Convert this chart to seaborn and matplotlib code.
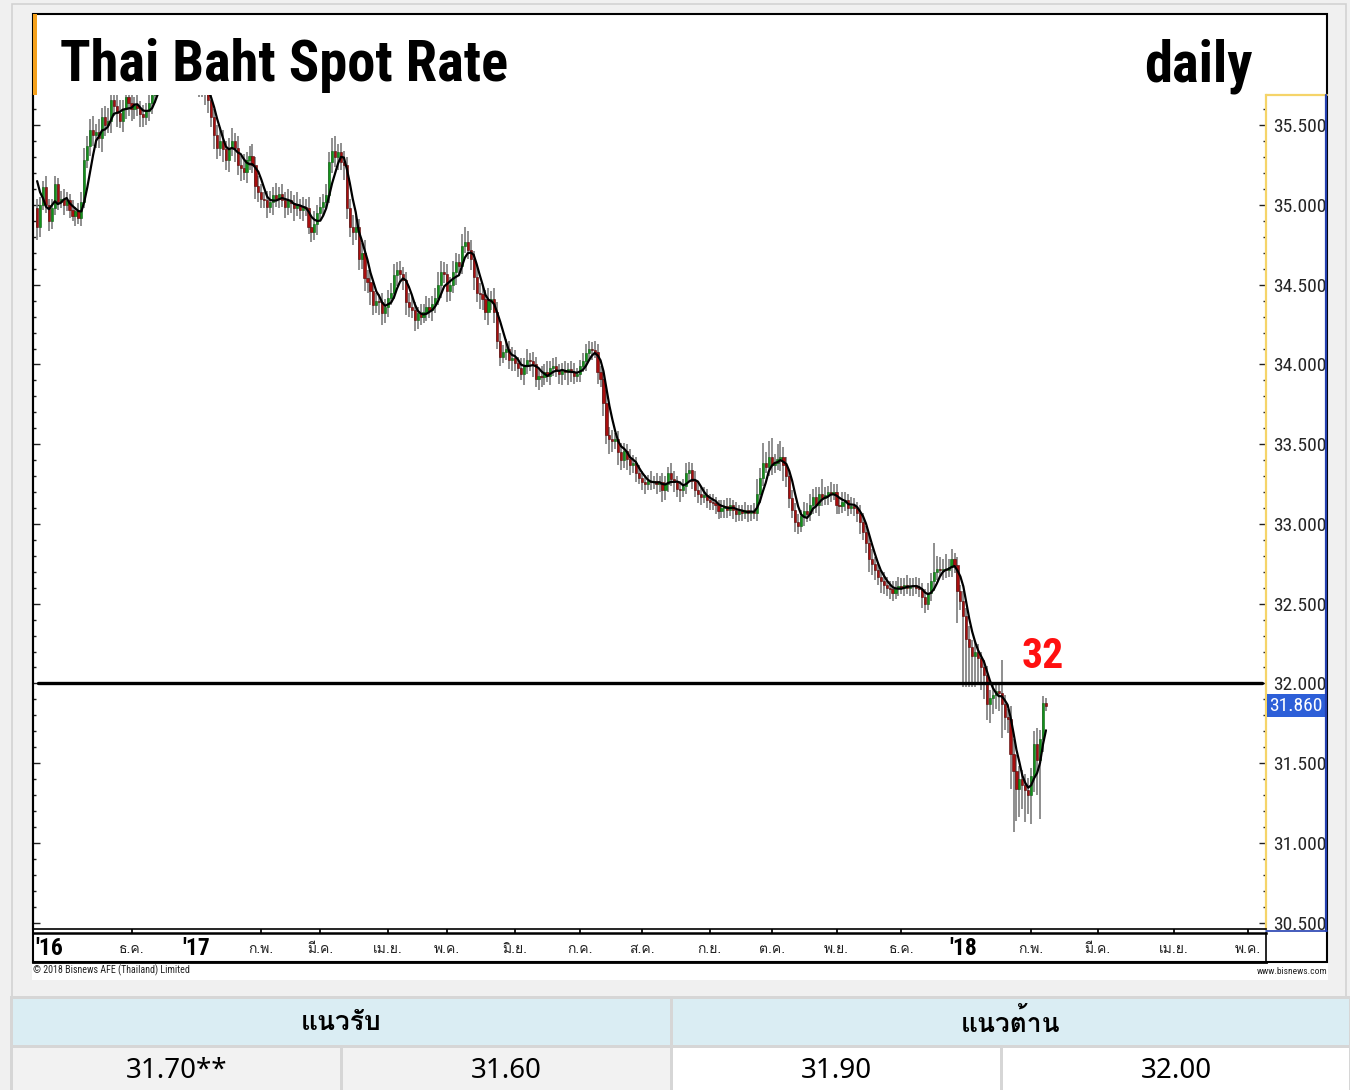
import numpy as np
import pandas as pd
import seaborn as sns
import matplotlib.pyplot as plt
import matplotlib.transforms as mtransforms
from matplotlib import font_manager
from matplotlib.ft2font import FT2Font
from matplotlib.patches import Rectangle
from matplotlib.lines import Line2D
from matplotlib.ticker import MultipleLocator, FormatStrFormatter

# daily closes (THB per USD), one list per month
pre_close = [35.35, 35.30, 35.26, 34.98]  # days before the visible window (feed the moving average)
c_2016_10 = [34.86, 35.00, 35.11, 35.00, 34.90, 34.98, 35.13, 35.02, 35.04, 35.00]
c_2016_11 = [35.03, 34.97, 34.93, 34.96, 34.92, 35.02, 35.28, 35.37, 35.47, 35.44, 35.46,
             35.42, 35.55, 35.50, 35.53, 35.66, 35.62, 35.58, 35.53, 35.60, 35.68, 35.64]
c_2016_12 = [35.60, 35.63, 35.61, 35.57, 35.55, 35.59, 35.64, 35.69, 35.78, 35.80, 35.77,
             35.82, 35.85, 35.88, 35.84, 35.86, 35.90, 35.87, 35.89, 35.85, 35.83, 35.80]
c_2017_01 = [35.78, 35.74, 35.72, 35.70, 35.66, 35.55, 35.44, 35.36, 35.40, 35.35, 35.28,
             35.36, 35.40, 35.36, 35.25, 35.23, 35.21, 35.28, 35.31, 35.25, 35.12, 35.08]
c_2017_02 = [35.04, 35.03, 34.99, 35.02, 35.06, 35.04, 35.07, 35.03, 34.99, 35.03,
             35.01, 34.98, 35.00, 34.97, 34.99, 34.98, 34.86, 34.83, 34.88, 34.95]
c_2017_03 = [34.99, 35.02, 35.06, 35.27, 35.34, 35.30, 35.33, 35.27, 35.25, 34.98, 34.86, 34.83,
             34.86, 34.66, 34.70, 34.54, 34.52, 34.46, 34.37, 34.40, 34.39, 34.32, 34.36]
c_2017_04 = [34.42, 34.45, 34.56, 34.59, 34.57, 34.53, 34.39, 34.36, 34.34, 34.28,
             34.32, 34.30, 34.33, 34.36, 34.34, 34.38, 34.42, 34.50, 34.58, 34.57]
c_2017_05 = [34.46, 34.50, 34.58, 34.64, 34.62, 34.74, 34.77, 34.72, 34.66, 34.55, 34.45, 34.44,
             34.41, 34.33, 34.40, 34.41, 34.33, 34.15, 34.05, 34.08, 34.10, 34.03, 34.04]
c_2017_06 = [34.01, 33.98, 33.94, 33.99, 34.03, 34.02, 34.00, 33.91, 33.93, 33.92, 33.95,
             33.93, 33.98, 33.99, 33.96, 33.94, 33.96, 33.95, 33.97, 33.95, 33.93, 33.94]
c_2017_07 = [33.99, 34.02, 34.07, 34.10, 34.09, 34.08, 33.95, 33.91, 33.76, 33.56, 33.53,
             33.52, 33.53, 33.45, 33.40, 33.46, 33.41, 33.37, 33.38, 33.32, 33.29]
c_2017_08 = [33.26, 33.25, 33.27, 33.26, 33.27, 33.25, 33.26, 33.21, 33.25, 33.32, 33.28, 33.26,
             33.22, 33.21, 33.24, 33.32, 33.34, 33.27, 33.21, 33.19, 33.17, 33.18, 33.15]
c_2017_09 = [33.14, 33.13, 33.12, 33.08, 33.10, 33.11, 33.09, 33.12, 33.09, 33.06, 33.08,
             33.07, 33.09, 33.07, 33.08, 33.07, 33.19, 33.29, 33.38, 33.36, 33.42]
c_2017_10 = [33.37, 33.38, 33.41, 33.42, 33.37, 33.30, 33.16, 33.09, 33.01, 32.99, 33.05,
             33.08, 33.06, 33.12, 33.17, 33.12, 33.19, 33.16, 33.18, 33.20, 33.19, 33.20]
c_2017_11 = [33.12, 33.11, 33.14, 33.15, 33.10, 33.11, 33.10, 33.07, 33.01, 32.95, 32.88,
             32.78, 32.75, 32.71, 32.67, 32.64, 32.62, 32.60, 32.59, 32.57, 32.60, 32.61]
c_2017_12 = [32.60, 32.62, 32.60, 32.61, 32.62, 32.60, 32.59, 32.54, 32.50, 32.57, 32.64,
             32.70, 32.72, 32.71, 32.72, 32.71, 32.73, 32.78, 32.74, 32.58, 32.52]
c_2018_01 = [32.42, 32.28, 32.23, 32.17, 32.20, 32.16, 32.10, 32.05, 31.87, 31.91, 31.93, 31.95,
             31.94, 31.87, 31.79, 31.78, 31.56, 31.45, 31.34, 31.40, 31.36, 31.33, 31.30]
c_2018_02 = [31.42, 31.62, 31.52, 31.65, 31.88, 31.86]

# upper / lower wick beyond the body, in satang (0.01 baht)
up_2016_10 = [6, 5, 4, 7, 4, 6, 5, 4, 5, 6]
dn_2016_10 = [8, 6, 3, 5, 6, 5, 4, 5, 4, 6]
up_2016_11 = [5, 4, 6, 3, 5, 6, 8, 6, 7, 9, 5, 8, 6, 7, 8, 6, 9, 7, 8, 6, 7, 5]
dn_2016_11 = [4, 5, 3, 6, 4, 5, 4, 5, 6, 7, 8, 6, 9, 7, 5, 8, 6, 9, 5, 7, 6, 8]
up_2016_12 = [6, 5, 7, 4, 6, 5, 7, 6, 5, 8, 6, 7, 5, 6, 8, 7, 5, 6, 7, 6, 5, 6]
dn_2016_12 = [7, 6, 5, 8, 6, 5, 6, 7, 5, 6, 8, 5, 6, 7, 5, 6, 7, 5, 6, 8, 6, 7]
up_2017_01 = [6, 5, 7, 4, 6, 8, 5, 6, 9, 7, 5, 6, 8, 5, 7, 6, 9, 5, 6, 7, 5, 6]
dn_2017_01 = [5, 6, 4, 7, 8, 6, 9, 7, 5, 8, 6, 7, 5, 9, 6, 8, 5, 7, 6, 5, 8, 6]
up_2017_02 = [5, 4, 6, 7, 5, 8, 4, 6, 5, 7, 6, 5, 8, 4, 6, 5, 7, 6, 8, 5]
dn_2017_02 = [6, 5, 7, 4, 8, 5, 6, 4, 7, 5, 6, 8, 5, 6, 7, 5, 4, 6, 5, 7]
up_2017_03 = [6, 5, 7, 6, 8, 9, 5, 6, 7, 5, 6, 8, 7, 5, 6, 8, 5, 7, 6, 5, 4, 6, 5]
dn_2017_03 = [5, 6, 4, 5, 7, 6, 8, 5, 9, 7, 6, 8, 5, 7, 6, 8, 7, 9, 6, 5, 8, 7, 6]
up_2017_04 = [5, 6, 7, 5, 6, 4, 5, 6, 7, 5, 4, 6, 5, 7, 6, 5, 6, 8, 7, 6]
dn_2017_04 = [6, 5, 4, 7, 5, 6, 8, 6, 5, 7, 6, 5, 4, 6, 5, 7, 6, 5, 8, 6]
up_2017_05 = [6, 5, 7, 6, 5, 8, 9, 7, 6, 5, 7, 6, 5, 6, 8, 5, 7, 6, 5, 4, 6, 5, 7]
dn_2017_05 = [7, 6, 5, 8, 6, 5, 4, 6, 7, 8, 6, 9, 7, 5, 8, 6, 7, 5, 6, 4, 5, 6, 7]
up_2017_06 = [5, 4, 6, 5, 7, 4, 6, 5, 4, 6, 5, 7, 4, 5, 6, 4, 5, 6, 4, 5, 6, 4]
dn_2017_06 = [5, 6, 4, 7, 5, 6, 8, 5, 7, 6, 5, 4, 6, 5, 4, 6, 7, 5, 8, 6, 5, 4]
up_2017_07 = [4, 5, 6, 5, 4, 6, 5, 4, 6, 8, 5, 6, 4, 5, 6, 5, 4, 6, 5, 4, 5]
dn_2017_07 = [5, 4, 6, 5, 6, 4, 7, 5, 8, 6, 9, 7, 5, 8, 6, 5, 7, 6, 5, 6, 4]
up_2017_08 = [4, 5, 4, 6, 3, 5, 4, 6, 5, 4, 6, 5, 4, 5, 4, 6, 5, 4, 6, 5, 4, 5, 4]
dn_2017_08 = [5, 6, 4, 5, 4, 6, 5, 7, 6, 5, 4, 6, 5, 7, 4, 5, 6, 5, 4, 6, 5, 4, 5]
up_2017_09 = [4, 5, 4, 3, 5, 4, 5, 4, 3, 5, 4, 4, 5, 3, 4, 5, 9, 6, 13, 7, 10]
dn_2017_09 = [5, 4, 6, 5, 4, 6, 5, 4, 6, 5, 4, 5, 4, 6, 5, 4, 5, 6, 5, 4, 6]
up_2017_10 = [12, 6, 9, 10, 6, 5, 4, 5, 4, 5, 4, 6, 5, 7, 5, 6, 4, 9, 5, 4, 6, 5]
dn_2017_10 = [6, 5, 4, 8, 10, 7, 6, 5, 6, 5, 4, 6, 5, 4, 6, 5, 7, 5, 4, 6, 5, 4]
up_2017_11 = [5, 4, 6, 5, 4, 6, 5, 4, 5, 6, 4, 5, 6, 4, 5, 4, 6, 5, 4, 5, 4, 6]
dn_2017_11 = [6, 5, 4, 6, 5, 4, 5, 6, 7, 5, 6, 8, 7, 6, 5, 7, 6, 5, 6, 5, 4, 5]
up_2017_12 = [5, 4, 6, 5, 4, 5, 6, 4, 5, 6, 5, 18, 8, 7, 6, 9, 5, 6, 4, 5, 4]
dn_2017_12 = [4, 5, 4, 5, 6, 4, 5, 7, 6, 4, 5, 6, 5, 4, 6, 5, 4, 6, 5, 20, 6]
up_2018_01 = [6, 5, 8, 4, 6, 5, 4, 5, 6, 5, 7, 6, 5, 21, 6, 5, 8, 9, 10, 8, 6, 7, 8]
dn_2018_01 = [44, 30, 25, 19, 19, 16, 14, 15, 10, 12, 10, 9, 11, 21, 8, 9, 22, 38, 20, 18, 15, 20, 12]
up_2018_02 = [5, 8, 10, 6, 4, 3]
dn_2018_02 = [18, 10, 22, 37, 8, 3]

first_day = "2016-10-18"
last_day = "2018-02-08"
resistance = 32.0
month_th = ["ม.ค.", "ก.พ.", "มี.ค.", "เม.ย.", "พ.ค.", "มิ.ย.",
            "ก.ค.", "ส.ค.", "ก.ย.", "ต.ค.", "พ.ย.", "ธ.ค."]
support_levels = ["31.70**", "31.60"]
resist_levels = ["31.90", "32.00"]

months = ["2016_10", "2016_11", "2016_12", "2017_01", "2017_02", "2017_03", "2017_04",
          "2017_05", "2017_06", "2017_07", "2017_08", "2017_09", "2017_10", "2017_11",
          "2017_12", "2018_01", "2018_02"]
g = globals()
close = np.concatenate([g["c_" + m] for m in months])
up = np.concatenate([g["up_" + m] for m in months]) / 100
dn = np.concatenate([g["dn_" + m] for m in months]) / 100
dates = pd.bdate_range(first_day, last_day)
n = len(close)
opn = np.concatenate([[pre_close[-1]], close[:-1]])
high = np.maximum(opn, close) + up
low = np.minimum(opn, close) - dn
ma = pd.Series(np.concatenate([pre_close, close])).rolling(5).mean().values[len(pre_close):]

df = pd.DataFrame({"date": dates, "i": np.arange(n), "open": opn, "close": close,
                   "high": high, "low": low, "ma": ma})

# ---- fonts ----
sns.set_theme(style="white")
ttf = font_manager.fontManager.ttflist
names = {f.name for f in ttf}
narrow_pref = ["Arial Narrow", "Liberation Sans Narrow", "Roboto Condensed", "PT Sans Narrow",
               "Archivo Narrow", "Fira Sans Condensed", "Barlow Semi Condensed"]
narrow = next((p for p in narrow_pref if p in names), "Liberation Sans")


def thai_fonts():
    seen, found = set(), []
    for f in ttf:
        if f.fname in seen:
            continue
        seen.add(f.fname)
        try:
            cmap = FT2Font(f.fname).get_charmap()
        except Exception:
            continue
        if 0x0E01 in cmap and 0x0E41 in cmap:
            found.append(f.name)
    return found


thai_found = thai_fonts()
thai_pref = ["Tahoma", "Loma", "Noto Sans Thai Looped", "IBM Plex Sans Thai Looped",
             "Noto Sans Thai"]
thai = next((p for p in thai_pref if p in thai_found),
            thai_found[0] if thai_found else "DejaVu Sans")
plt.rcParams["font.family"] = [narrow, thai, "DejaVu Sans"]
plt.rcParams["text.color"] = "black"

W, H = 1350, 1090


def fx(px):
    return px / W


def fy(py):
    return 1 - py / H


fig = plt.figure(figsize=(W / 100, H / 100), dpi=100)
fig.patch.set_facecolor("#f0f0f0")


def box(x0, y0, x1, y1, z=1, **kw):
    fig.add_artist(Rectangle((fx(x0), fy(y1)), fx(x1) - fx(x0), fy(y0) - fy(y1),
                             transform=fig.transFigure, zorder=z, **kw))


def fline(xs, ys, **kw):
    fig.add_artist(Line2D([fx(v) for v in xs], [fy(v) for v in ys],
                          transform=fig.transFigure, zorder=3, **kw))


# outer panel + white chart card (below the axes)
box(12, 4, 1346, 1092, z=-10, fc="#f0f0f0", ec="#d2d2d2", lw=1.2)
box(32, 14, 1328, 980, z=-9, fc="white", ec="none")

# ---- main price axes ----
ax = fig.add_axes([fx(33), fy(929), fx(1266) - fx(33), fy(95) - fy(929)])
ax.set_facecolor("white")

ax.vlines(df["i"], df["low"], df["high"], color="#7c7c7c", lw=1.2, zorder=2)
body_col = np.where(df["close"] >= df["open"], "#12921a", "#a80e0e")
edge_col = np.where(df["close"] >= df["open"], "#0b5e10", "#4e0505")
ax.bar(df["i"], np.maximum((df["close"] - df["open"]).abs(), 0.006),
       bottom=np.minimum(df["open"], df["close"]), width=0.74,
       color=body_col, edgecolor=edge_col, lw=0.4, zorder=3)
sns.lineplot(data=df, x="i", y="ma", ax=ax, color="black", lw=1.6, zorder=4)
ax.axhline(resistance, xmin=0.004, xmax=0.997, color="black", lw=2.4, zorder=5)

ax.set_xlim(-1.4, 416.6)
ax.set_ylim(30.46, 35.69)
ax.set_xlabel("")
ax.set_ylabel("")
ax.set_xticks([])
ax.yaxis.set_major_locator(MultipleLocator(0.5))
ax.yaxis.set_minor_locator(MultipleLocator(0.1))
ax.yaxis.set_major_formatter(FormatStrFormatter("%.3f"))
ax.tick_params(axis="y", which="both", left=True, right=True, labelleft=False,
               labelright=True, direction="in", color="#222222", width=1)
ax.tick_params(axis="y", which="major", length=5, labelsize=14, pad=5)
ax.tick_params(axis="y", which="minor", length=2.5)
ax.spines["top"].set_visible(False)
ax.spines["left"].set_color("black")
ax.spines["left"].set_linewidth(1.5)
ax.spines["bottom"].set_color("black")
ax.spines["bottom"].set_linewidth(1.2)
ax.spines["right"].set_color("#f5d469")
ax.spines["right"].set_linewidth(1.6)

last = df.iloc[-1]
ax.annotate(f"{int(resistance)}", xy=(last["i"], resistance), xytext=(-2, 11),
            textcoords="offset points", ha="center", va="baseline", color="#ff1010",
            fontsize=30, fontweight="bold", family=narrow)
trans = mtransforms.blended_transform_factory(ax.transAxes, ax.transData)
ax.text(1.0025, last["close"], f"{last['close']:.3f}", transform=trans, ha="left",
        va="center", color="white", fontsize=14, family=narrow, zorder=6,
        bbox=dict(boxstyle="square,pad=0.12", fc="#2d5fd8", ec="none"))

# ---- date strip ----
axd = fig.add_axes([fx(33), fy(962), fx(1266) - fx(33), fy(933) - fy(962)])
axd.set_xlim(ax.get_xlim())
axd.set_ylim(0, 1)
axd.set_yticks([])
axd.set_facecolor("white")
for s in axd.spines.values():
    s.set_color("black")
axd.spines["top"].set_linewidth(1.8)
axd.spines["bottom"].set_linewidth(2.0)
axd.spines["left"].set_linewidth(1.2)
axd.spines["right"].set_linewidth(1.2)

# month starts: trading-day index inside the data, calendar spacing after the last bar
tick_pos, tick_lab, tick_year = [], [], []
for ms in pd.date_range("2016-12-01", "2018-05-01", freq="MS"):
    inside = df[df["date"] >= ms]
    if len(inside) and ms <= df["date"].iloc[-1]:
        pos = inside["i"].iloc[0]
    else:
        pos = last["i"] + (ms - last["date"]).days * 5 / 6
    tick_pos.append(pos)
    if ms.month == 1:
        tick_lab.append("'" + str(ms.year)[2:])
        tick_year.append(True)
    else:
        tick_lab.append(month_th[ms.month - 1])
        tick_year.append(False)
axd.set_xticks([p for p, y in zip(tick_pos, tick_year) if not y])
axd.tick_params(axis="x", which="both", top=True, bottom=False, labelbottom=False,
                direction="out", length=3, color="black")
tb = mtransforms.blended_transform_factory(axd.transData, axd.transAxes)
axd.text(ax.get_xlim()[0] + 0.6, 0.45, "'16", transform=tb, ha="left", va="center",
         fontsize=17, fontweight="bold", family=narrow)
for p, lab, yr in zip(tick_pos, tick_lab, tick_year):
    if yr:
        axd.text(p, 0.45, lab, transform=tb, ha="center", va="center", fontsize=17,
                 fontweight="bold", family=narrow)
    else:
        axd.text(p, 0.42, lab, transform=tb, ha="center", va="center", fontsize=10,
                 family=[thai, narrow], color="#222222")

# ---- frame, title strip, right price panel ----
box(33, 14, 1327, 962, z=3, fc="none", ec="black", lw=1.5)
box(33, 14, 36.5, 95, z=3, fc="#f5a11c", ec="none")
fline([1266, 1327], [95, 95], color="#f5d469", lw=1.6)
fline([1326, 1326], [95, 931], color="#2440b0", lw=1.6)
fline([1266, 1327], [931, 931], color="#2440b0", lw=1.2)

t1 = fig.text(fx(60), fy(81), "Thai Baht Spot Rate", fontsize=47, fontweight="bold",
              family=narrow, va="baseline", ha="left")
t2 = fig.text(fx(1253), fy(81), "daily", fontsize=47, fontweight="bold",
              family=narrow, va="baseline", ha="right")
# shrink the heading until it spans the same width as in the source
fig.canvas.draw()
w1 = t1.get_window_extent().width
if w1 > 448:
    fs = 47 * 448 / w1
    t1.set_fontsize(fs)
    t2.set_fontsize(fs)
fig.text(fx(33), fy(970), "© 2018 Bisnews AFE (Thailand) Limited", fontsize=7.2,
         family=narrow, va="center", ha="left", color="#222222")
fig.text(fx(1327), fy(971), "www.bisnews.com", fontsize=6.8, family=narrow,
         va="center", ha="right", color="#222222")

# ---- support / resistance table ----
box(10, 996, 1350, 1092, z=-8, fc="#d6d6d6", ec="none")
box(13, 999, 670, 1045, z=-7, fc="#daedf3", ec="none")
box(673, 999, 1349, 1045, z=-7, fc="#daedf3", ec="none")
cells = [(13, 340), (343, 670), (673, 1000), (1003, 1349)]
fills = ["#f2f2f2", "#f2f2f2", "white", "white"]
for (a, b), fc, val in zip(cells, fills, support_levels + resist_levels):
    box(a, 1048, b, 1092, z=-7, fc=fc, ec="none")
    fig.text(fx((a + b) / 2), fy(1071), val, fontsize=20, ha="center", va="center",
             family=["Noto Sans", thai])
fig.text(fx(341), fy(1023), "แนวรับ", fontsize=19, fontweight="bold", ha="center",
         va="center", family=[thai, "DejaVu Sans"])
fig.text(fx(1011), fy(1023), "แนวต้าน", fontsize=19, fontweight="bold", ha="center",
         va="center", family=[thai, "DejaVu Sans"])

fig.savefig("out.png", dpi=100, facecolor=fig.get_facecolor())
